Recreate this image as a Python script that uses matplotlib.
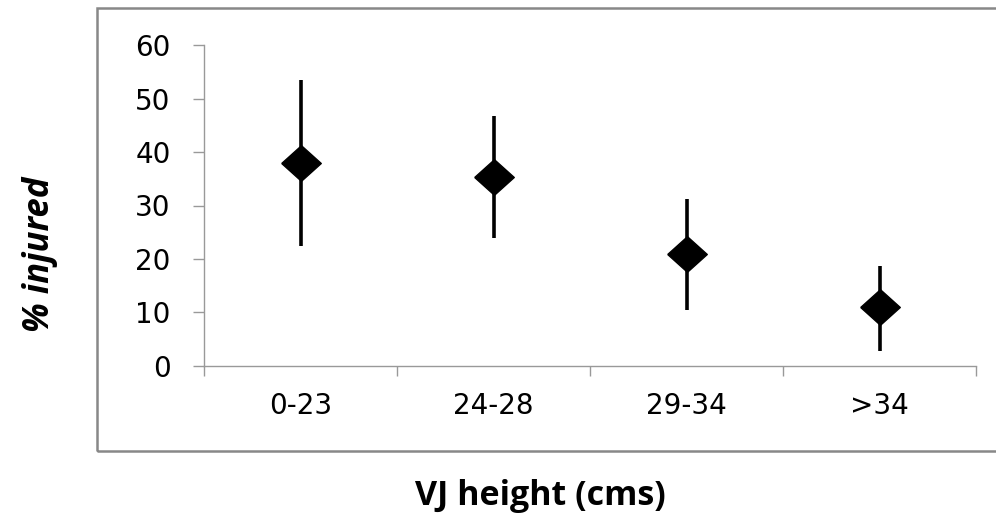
import numpy as np
import matplotlib.pyplot as plt
from matplotlib.patches import Rectangle

# data
groups = ["0-23", "24-28", "29-34", ">34"]
pct_injured = [37.9, 35.4, 20.9, 10.9]
ci_low = [22.4, 24.0, 10.4, 2.75]
ci_high = [53.5, 46.8, 31.2, 18.7]

W, H = 996, 515
fig = plt.figure(figsize=(W / 100, H / 100), dpi=100)

# outer chart border (runs off the right edge like the original)
fig.patches.append(Rectangle((97 / W, 1 - 451 / H), 1.0, (451 - 8) / H,
                             transform=fig.transFigure, fill=False,
                             edgecolor="#888888", lw=1.8, zorder=0))

ax = fig.add_axes([204 / W, 1 - 365.7 / H, (976 - 204) / W, (365.7 - 45.3) / H])

x = np.arange(len(groups)) + 0.5
y = np.array(pct_injured)
err = [y - np.array(ci_low), np.array(ci_high) - y]

diamond = [(-1, 0), (0, 0.9), (1, 0), (0, -0.9), (-1, 0)]
ax.errorbar(x, y, yerr=err, fmt="none", ecolor="black", elinewidth=2.6, capsize=0)
ax.plot(x, y, linestyle="none", marker=diamond, markersize=28.5, color="black")

ax.set_xlim(0, len(groups))
ax.set_ylim(0, 60)
ax.set_yticks(range(0, 61, 10))
ax.set_xticks(range(len(groups) + 1))
ax.set_xticklabels([])
ax.set_xticks(x, minor=True)
ax.set_xticklabels(groups, minor=True)

for s in ["top", "right"]:
    ax.spines[s].set_visible(False)
for s in ["left", "bottom"]:
    ax.spines[s].set_color("#999999")
    ax.spines[s].set_linewidth(1.0)

ax.tick_params(axis="y", direction="out", length=8, width=1.0, color="#999999",
               labelsize=20, pad=16)
ax.tick_params(axis="x", which="major", direction="out", length=7, width=1.0,
               color="#999999")
ax.tick_params(axis="x", which="minor", length=0, labelsize=20, pad=19)

fig.text(40 / W, 1 - 254 / H, "% injured", rotation=90, ha="center", va="center",
         fontsize=25, fontweight="bold", fontstyle="italic", family="Open Sans")
fig.text(540 / W, 1 - 496 / H, "VJ height (cms)", ha="center", va="center",
         fontsize=24.5, fontweight="bold", family="Open Sans")

fig.savefig("out.png", dpi=100)
